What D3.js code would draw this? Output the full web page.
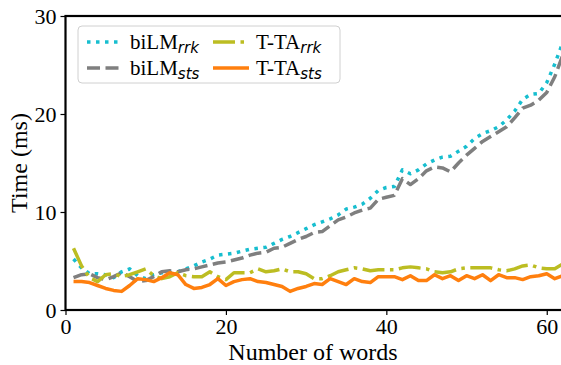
<!DOCTYPE html>
<html>
<head>
<meta charset="utf-8">
<script src="https://cdn.jsdelivr.net/npm/d3@7"></script>
<style>
  body { margin: 0; background: #fff; }
  text { font-family: "Liberation Serif", "Times New Roman", Times, serif; }
</style>
</head>
<body>
<div id="svg"></div>
<script>

// values, one per sentence length
var words = d3.range(1, 63);

var bilm_rrk = [5.2, 4.3, 3.7, 3.7, 3.6, 3.3, 3.9, 4.2, 3.5, 3.2,
		3.6, 3.8, 3.8, 3.9, 4.2, 4.5, 4.9, 5.2, 5.6, 5.7,
		5.8, 6.0, 6.2, 6.3, 6.4, 6.8, 7.2, 7.5, 7.9, 8.3,
		8.7, 9.0, 9.3, 9.7, 10.3, 10.5, 10.8, 11.4, 12.2, 12.5,
		12.6, 14.3, 13.9, 14.3, 14.9, 15.3, 15.6, 15.7, 16.2, 16.7,
		17.5, 18.0, 18.3, 18.7, 19.4, 20.3, 21.5, 22.0, 22.1, 23.2,
		25.1, 27.3];

var bilm_sts = [3.3, 3.6, 3.7, 3.3, 3.1, 3.4, 3.8, 3.4, 2.9, 3.0,
		3.4, 3.9, 4.0, 3.9, 4.1, 4.2, 4.4, 4.6, 4.8, 4.9,
		5.1, 5.3, 5.6, 5.8, 5.9, 6.3, 6.4, 6.8, 7.2, 7.5,
		7.9, 8.0, 8.6, 9.2, 9.5, 9.9, 10.2, 10.4, 11.3, 11.5,
		11.7, 13.4, 12.8, 13.4, 14.2, 14.6, 14.5, 14.1, 15.0, 15.8,
		16.5, 17.2, 17.7, 18.2, 18.7, 19.6, 20.6, 20.9, 21.4, 22.2,
		23.8, 26.0];

var tta_rrk = [6.3, 4.5, 3.3, 2.9, 3.6, 3.7, 3.4, 3.6, 3.9, 4.2,
	       3.5, 3.2, 3.4, 3.8, 3.5, 3.4, 3.4, 3.9, 3.4, 3.1,
	       3.8, 3.8, 3.8, 4.2, 3.9, 4.0, 4.2, 3.9, 3.9, 3.7,
	       3.2, 3.2, 3.5, 3.9, 4.1, 4.3, 4.2, 4.0, 4.1, 4.1,
	       4.1, 4.3, 4.4, 4.3, 4.2, 3.9, 3.8, 3.9, 4.2, 4.3,
	       4.3, 4.3, 4.3, 4.1, 4.0, 4.2, 4.5, 4.6, 4.3, 4.2,
	       4.2, 4.7];

var tta_sts = [2.9, 2.9, 2.8, 2.5, 2.2, 2.0, 1.9, 2.5, 3.2, 3.1,
	       2.9, 3.3, 3.8, 3.6, 2.6, 2.2, 2.3, 2.6, 3.2, 2.5,
	       2.9, 3.1, 3.2, 2.9, 2.8, 2.6, 2.4, 1.9, 2.2, 2.4,
	       2.7, 2.6, 3.2, 2.9, 2.6, 3.2, 2.9, 2.8, 3.4, 3.4,
	       3.4, 3.1, 3.5, 3.0, 3.0, 3.6, 3.2, 3.5, 3.0, 3.5,
	       3.2, 3.6, 3.0, 3.6, 3.3, 3.3, 3.1, 3.4, 3.5, 3.7,
	       3.2, 3.5];

var x_ticks = [0, 20, 40, 60];
var y_ticks = [0, 10, 20, 30];

var series = [
    {name: "biLM", sub: "rrk", vals: bilm_rrk, col: "#17becf", dash: "3.5,5.5"},
    {name: "biLM", sub: "sts", vals: bilm_sts, col: "#7f7f7f", dash: "13,5.5"},
    {name: "T-TA", sub: "rrk", vals: tta_rrk, col: "#bcbd22", dash: "22,5.5,3.5,5.5"},
    {name: "T-TA", sub: "sts", vals: tta_sts, col: "#ff7f0e", dash: null}
];

var serif = "'Liberation Serif', 'Times New Roman', Times, serif";

var W = 561, H = 365;
var plot = {left: 65.5, top: 16, bot: 310};

var sx = d3.scaleLinear().domain([0, 62.3]).range([plot.left, 565.2]);
var sy = d3.scaleLinear().domain([0, 30]).range([plot.bot, plot.top]);

var svg = d3.select("#svg").append("svg")
    .attr("width", W)
    .attr("height", H);

svg.append("defs").append("clipPath")
    .attr("id", "clip")
    .append("rect")
    .attr("x", plot.left)
    .attr("y", plot.top)
    .attr("width", W - plot.left)
    .attr("height", plot.bot - plot.top);

// lines
var line = d3.line()
    .x(function(d, i) { return sx(words[i]); })
    .y(function(d) { return sy(d); });

var lg = svg.append("g").attr("clip-path", "url(#clip)");
lg.selectAll("path")
    .data(series)
    .enter()
    .append("path")
    .attr("d", function(s) { return line(s.vals); })
    .attr("fill", "none")
    .attr("stroke", function(s) { return s.col; })
    .attr("stroke-width", 3.5)
    .attr("stroke-dasharray", function(s) { return s.dash; })
    .attr("stroke-linejoin", "round");

// axes
var xax = svg.append("g")
    .attr("transform", "translate(0," + plot.bot + ")")
    .call(d3.axisBottom(sx).tickValues(x_ticks).tickSize(5).tickPadding(3).tickFormat(d3.format("d")));
var yax = svg.append("g")
    .attr("transform", "translate(" + plot.left + ",0)")
    .call(d3.axisLeft(sy).tickValues(y_ticks).tickSize(5).tickPadding(4).tickFormat(d3.format("d")));

[xax, yax].forEach(function(ax) {
    ax.attr("font-family", null);
    ax.select(".domain").remove();
    ax.selectAll(".tick line").attr("stroke", "#000").attr("stroke-width", 1.2);
    ax.selectAll(".tick text")
	.attr("fill", "#000")
	.style("font-size", "22px")
	.style("font-family", serif);
});

// frame
svg.append("rect")
    .attr("x", plot.left)
    .attr("y", plot.top)
    .attr("width", 565.2 - plot.left)
    .attr("height", plot.bot - plot.top)
    .attr("fill", "none")
    .attr("stroke", "#000")
    .attr("stroke-width", 2.2);

// axis titles
svg.append("text")
    .attr("x", 313)
    .attr("y", 360)
    .attr("text-anchor", "middle")
    .style("font-family", serif)
    .style("font-size", "24px")
    .text("Number of words");

svg.append("text")
    .attr("transform", "translate(27,163) rotate(-90)")
    .attr("text-anchor", "middle")
    .style("font-family", serif)
    .style("font-size", "24px")
    .text("Time (ms)");

// legend
var leg = svg.append("g");
leg.append("rect")
    .attr("x", 78)
    .attr("y", 26)
    .attr("width", 262)
    .attr("height", 57)
    .attr("rx", 4)
    .attr("fill", "#fff")
    .attr("fill-opacity", 0.8)
    .attr("stroke", "#d0d0d0")
    .attr("stroke-width", 1);

var entries = leg.selectAll("g.entry")
    .data(series)
    .enter()
    .append("g")
    .attr("class", "entry")
    .attr("transform", function(s, i) {
	var col = i < 2 ? 0 : 1, row = i % 2;
	return "translate(" + (87 + col * 126) + "," + (42 + row * 26) + ")";
    });

entries.append("line")
    .attr("x1", 0)
    .attr("x2", 36)
    .attr("y1", 0)
    .attr("y2", 0)
    .attr("stroke", function(s) { return s.col; })
    .attr("stroke-width", 3.5)
    .attr("stroke-dasharray", function(s) { return s.dash; });

var lt = entries.append("text")
    .attr("x", 43)
    .attr("y", 7)
    .style("font-family", serif)
    .style("font-size", "21px");
lt.append("tspan").text(function(s) { return s.name; });
lt.append("tspan")
    .attr("dy", 4)
    .style("font-size", "15px")
    .style("font-style", "italic")
    .style("font-family", "'DejaVu Sans', sans-serif")
    .text(function(s) { return s.sub; });

</script>
</body>
</html>
